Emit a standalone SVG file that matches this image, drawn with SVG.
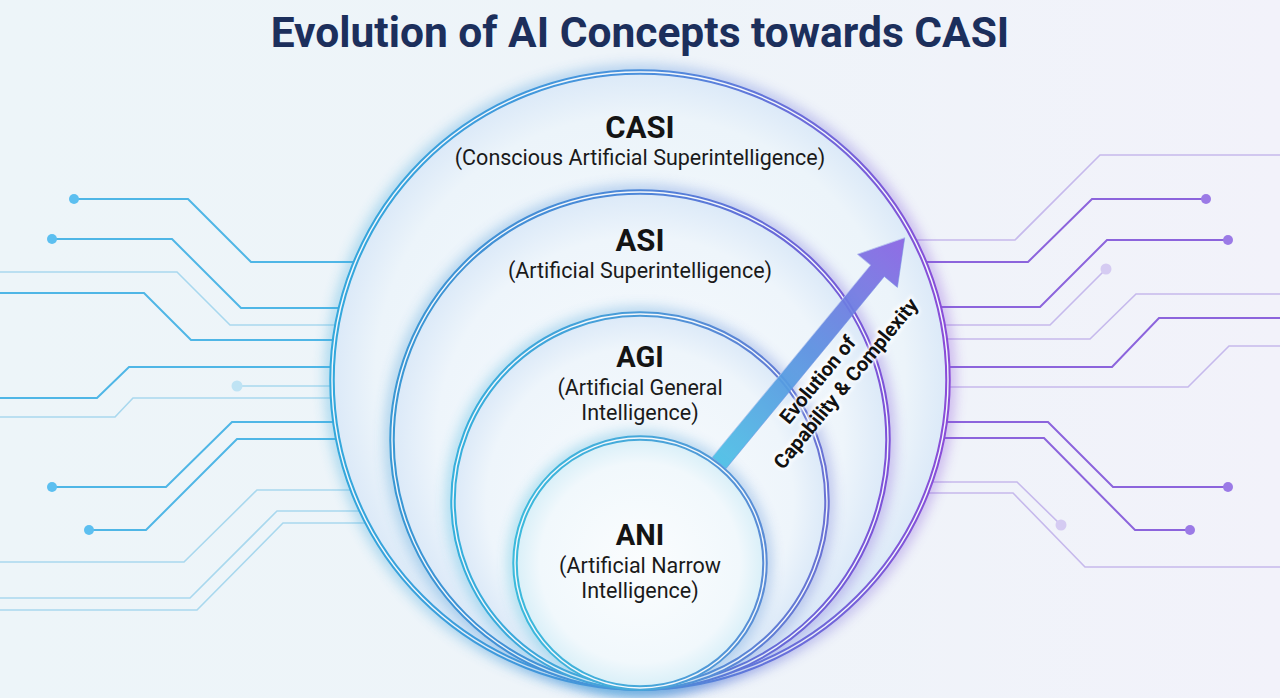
<svg xmlns="http://www.w3.org/2000/svg" width="1280" height="698" viewBox="0 0 1280 698">
<defs>
  <linearGradient id="bg" x1="0" y1="0" x2="1" y2="0">
    <stop offset="0" stop-color="#edf5f9"/>
    <stop offset="0.5" stop-color="#eef4f9"/>
    <stop offset="1" stop-color="#f2f2fa"/>
  </linearGradient>
  <linearGradient id="gCASI" x1="0" y1="0" x2="1" y2="0">
    <stop offset="0" stop-color="#34a8dc"/>
    <stop offset="0.5" stop-color="#4a90dc"/>
    <stop offset="1" stop-color="#8a4cd8"/>
  </linearGradient>
  <linearGradient id="gASI" x1="0" y1="0" x2="1" y2="0">
    <stop offset="0" stop-color="#3a98d4"/>
    <stop offset="0.5" stop-color="#4d86d8"/>
    <stop offset="1" stop-color="#7e52d8"/>
  </linearGradient>
  <linearGradient id="gAGI" x1="0" y1="0" x2="1" y2="0">
    <stop offset="0" stop-color="#36b0dc"/>
    <stop offset="0.5" stop-color="#4a9ad8"/>
    <stop offset="1" stop-color="#6a72d4"/>
  </linearGradient>
  <linearGradient id="gANI" x1="0" y1="0" x2="1" y2="0">
    <stop offset="0" stop-color="#3cbadc"/>
    <stop offset="0.5" stop-color="#46a8da"/>
    <stop offset="1" stop-color="#5a8cd6"/>
  </linearGradient>
  <radialGradient id="fillC" cx="0.5" cy="0.5" r="0.5">
    <stop offset="0" stop-color="#f7fbfd"/>
    <stop offset="0.86" stop-color="#ecf4fa"/>
    <stop offset="1" stop-color="#dbe9f8"/>
  </radialGradient>
  <radialGradient id="fillI" cx="0.5" cy="0.5" r="0.5">
    <stop offset="0" stop-color="#f8fbfd"/>
    <stop offset="0.82" stop-color="#eef5fb"/>
    <stop offset="1" stop-color="#dbe9f8"/>
  </radialGradient>
  <radialGradient id="fillANI" cx="0.5" cy="0.5" r="0.5">
    <stop offset="0" stop-color="#fbfdfe"/>
    <stop offset="0.8" stop-color="#f1f8fc"/>
    <stop offset="1" stop-color="#d8eff8"/>
  </radialGradient>
  <linearGradient id="gArrow" x1="0" y1="0" x2="1" y2="0">
    <stop offset="0" stop-color="#4cc0e6"/>
    <stop offset="0.5" stop-color="#5a8fe0"/>
    <stop offset="1" stop-color="#8a62e4"/>
  </linearGradient>
  <filter id="glow" x="-20%" y="-20%" width="140%" height="140%">
    <feGaussianBlur stdDeviation="7"/>
  </filter>
  <filter id="tglow" x="-10%" y="-10%" width="120%" height="120%">
    <feGaussianBlur stdDeviation="1.5"/>
  </filter>
</defs>
<style>
  .bl{fill:none;stroke:#4fb6e6;stroke-width:2}
  .ll{fill:none;stroke:#a9d8ee;stroke-width:1.6}
  .bd{fill:#5cbff0}
  .ld{fill:#bfe3f4}
  .pm{fill:none;stroke:#8c64dc;stroke-width:2}
  .pl{fill:none;stroke:#c6b9ec;stroke-width:1.6}
  .pd{fill:#9b7ae6}
  .pld{fill:#d5cbf2}
  .halo{fill:none;stroke-width:12;opacity:0.45;filter:url(#glow)}
  .ring{fill:none;stroke-width:5.5}
  .gap{fill:none;stroke:#f4f8fc;stroke-width:1.4}
  .head{font-family:Roboto,"Liberation Sans",sans-serif;font-weight:700;fill:#141414;text-anchor:middle}
  .sub{font-family:Roboto,"Liberation Sans",sans-serif;font-weight:400;fill:#1a1a1a;text-anchor:middle;font-size:21.5px}
  .title{font-family:Roboto,"Liberation Sans",sans-serif;font-weight:700;fill:#1c2f5c;text-anchor:middle;font-size:42.5px}
  .arr{font-family:Roboto,"Liberation Sans",sans-serif;font-weight:700;fill:#111;text-anchor:middle;font-size:20px}
</style>
<rect width="1280" height="698" fill="url(#bg)"/>

<g id="circuit">
  <path class="ll" d="M0,272 H177 L230,325 H400"/>
  <path class="ll" d="M237,386 H400"/>
  <path class="ll" d="M0,417 H115 L133,398 H400"/>
  <path class="ll" d="M0,562 H184 L257,490 H400"/>
  <path class="ll" d="M0,598 H190 L277,511 H400"/>
  <path class="ll" d="M0,610 H197 L283,523 H400"/>
  <path class="bl" d="M74,199 H188 L251,262 H400"/>
  <path class="bl" d="M52,239 H172 L241,308 H400"/>
  <path class="bl" d="M0,293 H144 L191,340 H400"/>
  <path class="bl" d="M0,398 H97 L129,367 H400"/>
  <path class="bl" d="M52,487 H166 L232,422 H400"/>
  <path class="bl" d="M89,530 H146 L237,439 H400"/>
  <circle class="bd" cx="74" cy="199" r="5"/>
  <circle class="bd" cx="52" cy="239" r="5"/>
  <circle class="bd" cx="52" cy="487" r="5"/>
  <circle class="bd" cx="89" cy="530" r="5"/>
  <circle class="ld" cx="237" cy="386" r="5.5"/>

  <path class="pl" d="M1280,155 H1100 L1015,240 H880"/>
  <path class="pl" d="M1106,269 L1050,325 H880"/>
  <path class="pl" d="M1280,294 H1136 L1090,339 H880"/>
  <path class="pl" d="M1280,346 H1229 L1188,387 H880"/>
  <path class="pl" d="M1061,525 L1017,482 H880"/>
  <path class="pl" d="M1280,567 H1085 L1013,493 H880"/>
  <path class="pm" d="M1206,199 H1092 L1028,262 H880"/>
  <path class="pm" d="M1228,240 H1107 L1040,307 H880"/>
  <path class="pm" d="M1280,318 H1159 L1112,367 H880"/>
  <path class="pm" d="M1228,487 H1113 L1048,422 H880"/>
  <path class="pm" d="M1190,530 H1135 L1044,438 H880"/>
  <circle class="pd" cx="1206" cy="199" r="5"/>
  <circle class="pd" cx="1228" cy="240" r="5"/>
  <circle class="pd" cx="1228" cy="487" r="5"/>
  <circle class="pd" cx="1190" cy="530" r="5"/>
  <circle class="pld" cx="1106" cy="269" r="5.5"/>
  <circle class="pld" cx="1061" cy="525" r="5.5"/>
</g>

<text class="title" x="640" y="47">Evolution of AI Concepts towards CASI</text>

<g id="node-casi">
  <circle class="halo" cx="640" cy="380" r="308" stroke="url(#gCASI)"/>
  <circle cx="640" cy="380" r="308" fill="url(#fillC)"/>
  <circle class="ring" cx="640" cy="380" r="308" stroke="url(#gCASI)"/>
  <circle class="gap" cx="640" cy="380" r="308"/>
  <text class="head" x="640" y="138" font-size="31">CASI</text>
  <text class="sub" x="640" y="165">(Conscious Artificial Superintelligence)</text>
</g>

<g id="node-asi">
  <circle class="halo" cx="640" cy="440" r="248" stroke="url(#gASI)"/>
  <circle cx="640" cy="440" r="248" fill="url(#fillI)"/>
  <circle class="ring" cx="640" cy="440" r="248" stroke="url(#gASI)"/>
  <circle class="gap" cx="640" cy="440" r="248"/>
  <text class="head" x="640" y="251" font-size="31">ASI</text>
  <text class="sub" x="640" y="278">(Artificial Superintelligence)</text>
</g>

<g id="node-agi">
  <circle class="halo" cx="640" cy="501" r="187" stroke="url(#gAGI)"/>
  <circle cx="640" cy="501" r="187" fill="url(#fillI)"/>
  <circle class="ring" cx="640" cy="501" r="187" stroke="url(#gAGI)"/>
  <circle class="gap" cx="640" cy="501" r="187"/>
  <text class="head" x="640" y="367" font-size="29">AGI</text>
  <text class="sub" x="640" y="395">(Artificial General</text>
  <text class="sub" x="640" y="420">Intelligence)</text>
</g>

<g id="node-ani">
  <circle class="halo" cx="640" cy="563" r="125" stroke="url(#gANI)"/>
  <circle cx="640" cy="563" r="125" fill="url(#fillANI)"/>
  <circle class="ring" cx="640" cy="563" r="125" stroke="url(#gANI)"/>
  <circle class="gap" cx="640" cy="563" r="125"/>
  <text class="head" x="640" y="545" font-size="29">ANI</text>
  <text class="sub" x="640" y="573">(Artificial Narrow</text>
  <text class="sub" x="640" y="598">Intelligence)</text>
</g>

<g id="connectors">
  <g transform="translate(719,463) rotate(-50.5)">
    <path d="M0,-9 H249 V-26 L292,0 L249,26 V9 H0 Z" fill="url(#gArrow)" opacity="0.92" stroke="#6a8ae0" stroke-width="0.8" stroke-opacity="0.6"/>
    <path d="M0,-9 H249 V-26 L292,0" fill="none" stroke="#ffffff" stroke-width="1" opacity="0.35"/>
    <g stroke="#ffffff" stroke-width="4" opacity="0.8" filter="url(#tglow)">
      <text class="arr" x="127" y="30">Evolution of</text>
      <text class="arr" x="142" y="54">Capability &amp; Complexity</text>
    </g>
    <text class="arr" x="127" y="30">Evolution of</text>
    <text class="arr" x="142" y="54">Capability &amp; Complexity</text>
  </g>
</g>
</svg>
